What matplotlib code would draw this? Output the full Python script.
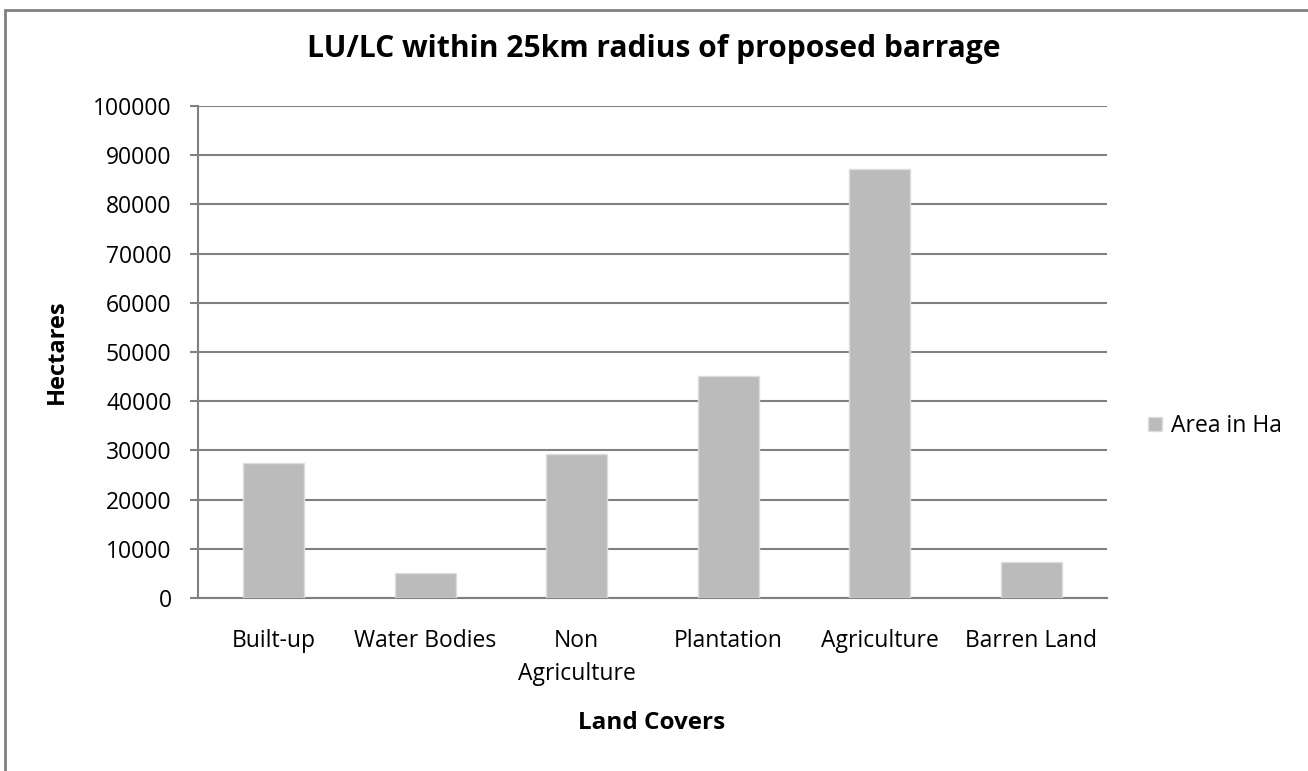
import matplotlib.pyplot as plt
from matplotlib.patches import Rectangle
import numpy as np

categories = ['Built-up', 'Water Bodies', 'Non\nAgriculture', 'Plantation', 'Agriculture', 'Barren Land']
area_ha = [27500, 5150, 29300, 45100, 87200, 7250]
yticks = np.arange(0, 100001, 10000)

plt.rcParams['font.family'] = ['Open Sans', 'DejaVu Sans']

W, H = 1308, 771
fig = plt.figure(figsize=(W / 100, H / 100), dpi=100)
ax = fig.add_axes([198 / W, 1 - 598 / H, (1107 - 198) / W, (598 - 106) / H])

x = np.arange(len(categories))
ax.bar(x, area_ha, width=0.4, color='#BBBBBB', edgecolor='#DDDDDD', linewidth=1,
       label='Area in Ha', zorder=3)

ax.set_xlim(-0.5, len(categories) - 0.5)
ax.set_ylim(0, 100000)
ax.set_yticks(yticks)
ax.set_yticklabels([str(v) for v in yticks], fontsize=16.5)
ax.set_xticks(x)
ax.set_xticklabels(categories, fontsize=16.5, linespacing=1.55)
ax.tick_params(axis='x', length=0, pad=22)
ax.tick_params(axis='y', length=6, width=1.5, color='#808080', pad=13)

# 格線
ax.grid(axis='y', color='#808080', linewidth=1.5, zorder=0)
for s in ['top', 'right']:
    ax.spines[s].set_visible(False)
for s in ['left', 'bottom']:
    ax.spines[s].set_color('#808080')
    ax.spines[s].set_linewidth(1.5)

# 標題與軸標籤
fig.text(654 / W, 1 - 49 / H, 'LU/LC within 25km radius of proposed barrage',
         fontsize=21.6, fontweight='bold', ha='center', va='center')
fig.text(57 / W, 1 - 352 / H, 'Hectares', fontsize=17, fontweight='bold',
         rotation=90, ha='center', va='center')
fig.text(652 / W, 1 - 723 / H, 'Land Covers', fontsize=17.5, fontweight='bold',
         ha='center', va='center')

ax.legend(loc='center left', bbox_to_anchor=(1148 / W, 1 - 426 / H), bbox_transform=fig.transFigure,
          frameon=False, fontsize=16.5, handlelength=0.6, handleheight=0.6, handletextpad=0.4,
          borderpad=0, borderaxespad=0)

# 外框
fig.patches.append(Rectangle((5 / W, -0.05), 1.0, 1 - 10 / H + 0.05, transform=fig.transFigure,
                             fill=False, edgecolor='#808080', linewidth=2))

fig.savefig('out.png', dpi=100)
